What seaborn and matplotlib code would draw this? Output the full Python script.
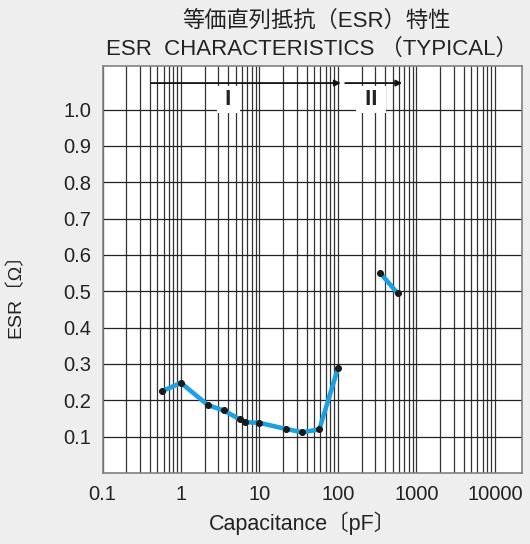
import matplotlib
matplotlib.use("Agg")
import matplotlib.pyplot as plt
import matplotlib.ticker as mticker
import numpy as np
import pandas as pd
import seaborn as sns

# Data
cap_1 = [0.57, 1.0, 2.2, 3.5, 5.6, 6.6, 10, 22, 35, 58, 100]
esr_1 = [0.225, 0.248, 0.187, 0.172, 0.148, 0.140, 0.138, 0.121, 0.112, 0.120, 0.288]
cap_2 = [347, 580]
esr_2 = [0.550, 0.494]

x_ticks = [0.1, 1, 10, 100, 1000, 10000]
x_ticklabels = ["0.1", "1", "10", "100", "1000", "10000"]
y_ticks = [0.1, 0.2, 0.3, 0.4, 0.5, 0.6, 0.7, 0.8, 0.9, 1.0]

df1 = pd.DataFrame({"cap": cap_1, "esr": esr_1})
df2 = pd.DataFrame({"cap": cap_2, "esr": esr_2})

sns.set_theme(style="white")
plt.rcParams["font.family"] = ["Liberation Sans", "Noto Sans CJK JP", "DejaVu Sans"]
plt.rcParams["text.color"] = "#222222"

bg = "#eeeeee"
blue = "#1da0e2"
fig = plt.figure(figsize=(5.3, 5.44), dpi=100, facecolor=bg)
ax = fig.add_axes([102.5 / 530, 1 - 473 / 544, 419.2 / 530, 407 / 544])
ax.set_facecolor("white")

for d in (df1, df2):
    sns.lineplot(data=d, x="cap", y="esr", ax=ax, color=blue, lw=3.3,
                 marker="o", markersize=4.3, markerfacecolor="#1a1a1a",
                 markeredgecolor="#1a1a1a", sort=False, zorder=4)

ax.set_xscale("log")
ax.set_xlim(0.1, 2.2e4)
ax.set_ylim(0, 1.12)

ax.xaxis.set_major_locator(mticker.FixedLocator(x_ticks))
ax.xaxis.set_major_formatter(mticker.FixedFormatter(x_ticklabels))
minors = [m * 10.0 ** e for e in range(-1, 4) for m in range(2, 10)]
ax.xaxis.set_minor_locator(mticker.FixedLocator(minors))
ax.xaxis.set_minor_formatter(mticker.NullFormatter())
ax.set_yticks(y_ticks)
ax.set_yticklabels([f"{v:.1f}" for v in y_ticks])

ax.set_axisbelow(True)
ax.grid(True, which="both", axis="x", color="#333333", lw=0.9)
ax.grid(True, which="major", axis="y", color="#222222", lw=0.9)
ax.tick_params(which="both", length=0, labelsize=14.5, labelcolor="#222222")
ax.tick_params(axis="x", pad=9)
ax.tick_params(axis="y", pad=8)
for s in ax.spines.values():
    s.set_color("#808080")
    s.set_linewidth(1.2)
ax.set_xlabel("")
ax.set_ylabel("")

# region arrows and labels
arrow = dict(arrowstyle="-|>", color="#111111", lw=1.3, mutation_scale=9,
             shrinkA=0, shrinkB=0)
ax.annotate("", xy=(109, 1.073), xytext=(0.417, 1.073), arrowprops=arrow, zorder=6)
ax.annotate("", xy=(660, 1.073), xytext=(124, 1.073), arrowprops=arrow, zorder=6)
box = dict(facecolor="white", edgecolor="none", boxstyle="square,pad=0.12")
ax.text(4.03, 1.028, " I ", ha="center", va="center", fontsize=16,
        fontweight="bold", color="#222222", bbox=box, zorder=5)
ax.text(267, 1.028, " II ", ha="center", va="center", fontsize=16,
        fontweight="bold", color="#222222", bbox=box, zorder=5)

# titles and axis labels
fig.text(316.7 / 530, 1 - 21.5 / 544, "等価直列抵抗（ESR）特性", ha="center",
         va="center", fontsize=16, color="#222222")
fig.text(312 / 530, 1 - 49.5 / 544, "ESR  CHARACTERISTICS （TYPICAL）",
         ha="center", va="center", fontsize=16, color="#222222")
fig.text(303 / 530, 1 - 523 / 544, "Capacitance〔pF〕", ha="center",
         va="center", fontsize=15.5, color="#222222")
fig.text(15 / 530, 1 - 291 / 544, "ESR〔Ω〕", ha="center", va="center",
         rotation=90, fontsize=14, color="#222222")

fig.savefig("out.png", dpi=100, facecolor=bg)
